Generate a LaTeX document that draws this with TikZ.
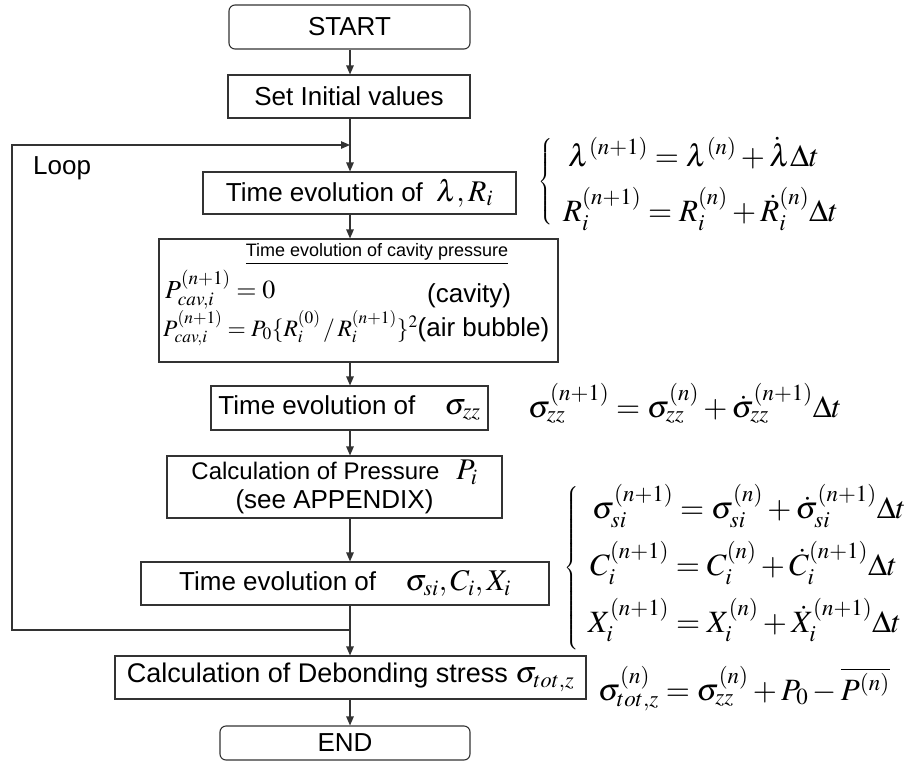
\documentclass[tikz,border=0pt]{standalone}
\usepackage{mathptmx}
\usepackage[no-math]{fontspec}
\setmainfont{Liberation Sans}
\usetikzlibrary{arrows.meta,calc}
\newcommand{\bm}[1]{{\fontsize{30}{30}\selectfont$#1$}}
\begin{document}
\begin{tikzpicture}[x=1pt,y=-1pt,
  box/.style={draw=black!80,line width=1.1pt,inner sep=0pt,align=center,
              font=\fontsize{26}{30}\selectfont},
  rbox/.style={box,rounded corners=6pt},
  arr/.style={-{Triangle[length=9pt,width=7.5pt]},line width=1.1pt,draw=black!80},
  lbl/.style={inner sep=0pt,font=\fontsize{26}{30}\selectfont},
  cavtxt/.style={inner sep=0pt,anchor=base west,font=\fontsize{26}{30}\selectfont},
  eqn/.style={inner sep=0pt,anchor=base west,font=\fontsize{31}{36}\selectfont},
  brc/.style={inner sep=0pt,font=\fontsize{16}{18}\selectfont}]
\useasboundingbox (0,0) rectangle (913,763);

% boxes
\node[rbox, minimum width=241pt, minimum height=44pt] (start) at (349.5,27) {START};
\node[box, minimum width=242pt, minimum height=43pt] (init) at (349,96.5) {Set Initial values};
\node[box, minimum width=313pt, minimum height=42pt] (lam) at (359.5,193)
  {Time evolution of\hspace{6pt} \bm{\lambda, R_i}};
\node[box, minimum width=399pt, minimum height=123pt] (cav) at (358.5,300.5) {};
\node[box, minimum width=277pt, minimum height=44pt] (szz) at (349.5,408)
  {Time evolution of\hspace{22pt} \bm{\sigma_{zz}}};
\node[box, minimum width=335pt, minimum height=62pt, font=\fontsize{24}{29}\selectfont] (calc) at (334.5,487)
  {Calculation of Pressure\hspace{10pt} \bm{P_i}\\{\fontsize{26}{29}\selectfont (see APPENDIX)}};
\node[box, minimum width=408pt, minimum height=43pt] (ssi) at (345,583.5)
  {Time evolution of\hspace{22pt} \bm{\sigma_{si}, C_i, X_i}};
\node[box, minimum width=471pt, minimum height=43pt, font=\fontsize{27}{30}\selectfont] (deb) at (350.5,677.5)
  {Calculation of Debonding stress \bm{\sigma_{tot,z}}};
\node[rbox, minimum width=250pt, minimum height=34pt] (end) at (345,743) {END};

% cavity box contents
\node[inner sep=0pt, font=\fontsize{18}{22}\selectfont] (cavtitle) at (377,254)
  {\underline{Time evolution of cavity pressure}};
\node[cavtxt] (cav1) at (165,298) {$P^{(n+1)}_{cav,i} = 0$};
\node[cavtxt] (cav1r) at (427,302) {(cavity)};
\node[cavtxt] (cav2) at (163,336)
  {{\fontsize{23.5}{26}\selectfont$P^{(n+1)}_{cav,i} = P_0\{R_i^{(0)}\,/\,R_i^{(n+1)}\}^2$}(air bubble)};

% loop label
\node[lbl, anchor=west] (looplbl) at (33,168) {Loop};

% spine and connectors
\coordinate (spine) at (350,0);
\draw[arr] (start.south -| spine) -- (init.north -| spine);
\draw[arr] (init.south -| spine) -- (lam.north -| spine);
\draw[arr] (lam.south -| spine) -- (cav.north -| spine);
\draw[arr] (cav.south -| spine) -- (szz.north -| spine);
\draw[arr] (szz.south -| spine) -- (calc.north -| spine);
\draw[arr] (calc.south -| spine) -- (ssi.north -| spine);
\draw[arr] (ssi.south -| spine) -- (deb.north -| spine);
\draw[arr] (deb.south -| spine) -- (end.north -| spine);
\coordinate (loopbot) at (350,630);
\coordinate (looptop) at (350,145);
\draw[arr] (loopbot) -- ++(-338,0) |- (looptop);

% right-hand equations
\node[brc] (br1) at (546,182) {$\left\{\vrule height 39pt depth 39pt width 0pt\right.$};
\node[eqn] (eqlam) at (568,166) {$\lambda^{(n+1)} = \lambda^{(n)} + \dot{\lambda}\Delta t$};
\node[eqn] (eqR) at (563,221) {$R_i^{(n+1)} = R_i^{(n)} + \dot{R}_i^{(n)}\Delta t$};

\node[eqn] (eqszz) at (528,417) {$\sigma_{zz}^{(n+1)} = \sigma_{zz}^{(n)} + \dot{\sigma}_{zz}^{(n+1)}\Delta t$};

\node[brc] (br2) at (572,568) {$\left\{\vrule height 78pt depth 78pt width 0pt\right.$};
\node[eqn] (eqsi) at (592,518) {$\sigma_{si}^{(n+1)} = \sigma_{si}^{(n)} + \dot{\sigma}_{si}^{(n+1)}\Delta t$};
\node[eqn] (eqC) at (590,575) {$C_i^{(n+1)} = C_i^{(n)} + \dot{C}_i^{(n+1)}\Delta t$};
\node[eqn] (eqX) at (588,632) {$X_i^{(n+1)} = X_i^{(n)} + \dot{X}_i^{(n+1)}\Delta t$};

\node[eqn] (eqtot) at (598,700) {$\sigma_{tot,z}^{(n)} = \sigma_{zz}^{(n)} + P_0 - \overline{P^{(n)}}$};
\end{tikzpicture}
\end{document}
